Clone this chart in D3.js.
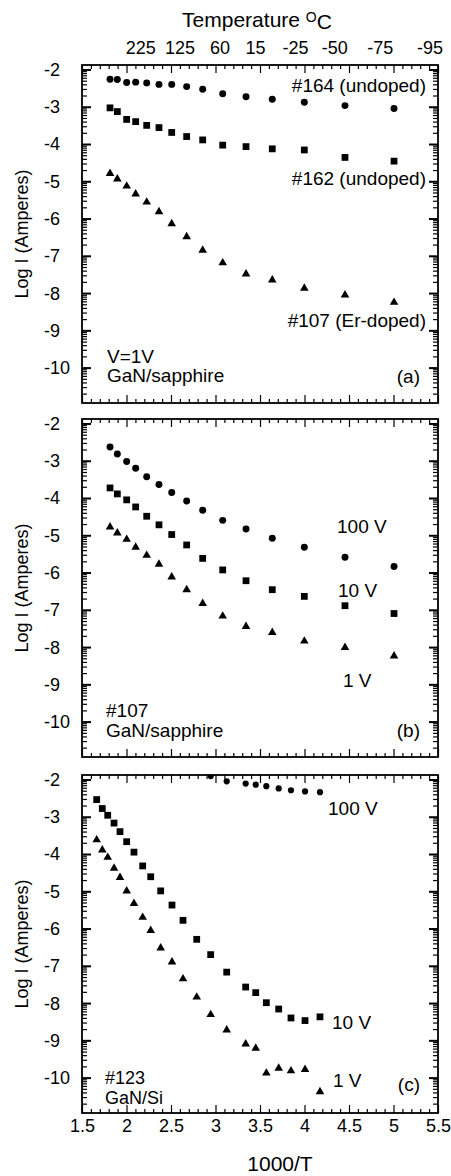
<!DOCTYPE html>
<html>
<head>
<meta charset="utf-8">
<script src="https://cdn.jsdelivr.net/npm/d3@7"></script>
<style>
  body { margin: 0; background: #fff; }
  svg { display: block; font-family: "Liberation Sans", Arial, Helvetica, sans-serif; }
</style>
</head>
<body>
<svg id="chart" width="451" height="1176"></svg>
<script>
// ---- data ----
const xDomain = [1.5, 5.5];
const yDomain = [-10.95, -1.88];
const xMajorTicks = [1.5, 2, 2.5, 3, 3.5, 4, 4.5, 5, 5.5];
const yMajorTicks = [-2, -3, -4, -5, -6, -7, -8, -9, -10];
const tempLabels = ["225", "125", "60", "15", "-25", "-50", "-75", "-95"];
const tempPos = [2.16, 2.6, 3.05, 3.45, 3.9, 4.34, 4.85, 5.41];

// panels (a) and (b) share the same temperatures
const xAB = [1.815, 1.897, 2.002, 2.103, 2.227, 2.365, 2.508, 2.676, 2.856, 3.081, 3.343, 3.638, 3.998, 4.455, 5.006];
const a164 = [-2.26, -2.27, -2.35, -2.34, -2.36, -2.40, -2.40, -2.46, -2.53, -2.65, -2.73, -2.80, -2.88, -2.97, -3.05];
const a162 = [-3.03, -3.13, -3.34, -3.40, -3.50, -3.56, -3.69, -3.80, -3.89, -4.03, -4.07, -4.13, -4.16, -4.36, -4.46];
const a107 = [-4.79, -4.94, -5.13, -5.34, -5.56, -5.82, -6.14, -6.49, -6.85, -7.19, -7.49, -7.65, -7.87, -8.05, -8.25];

const b100 = [-2.63, -2.82, -3.02, -3.20, -3.43, -3.64, -3.85, -4.08, -4.33, -4.60, -4.83, -5.08, -5.32, -5.59, -5.84];
const b10 = [-3.73, -3.89, -4.05, -4.24, -4.49, -4.72, -4.98, -5.26, -5.62, -5.93, -6.22, -6.46, -6.64, -6.89, -7.10];
const b1 = [-4.78, -4.94, -5.11, -5.32, -5.54, -5.78, -6.12, -6.46, -6.83, -7.17, -7.45, -7.61, -7.84, -8.01, -8.24];

const xC = [1.665, 1.728, 1.789, 1.860, 1.927, 2.002, 2.084, 2.182, 2.272, 2.384, 2.511, 2.635, 2.789, 2.946, 3.126, 3.339, 3.452, 3.571, 3.710, 3.848, 4.006, 4.174];
const c100 = [-1.91, -2.05, -2.11, -2.14, -2.18, -2.24, -2.29, -2.32, -2.34]; // last 9 temperatures
const c10 = [-2.54, -2.78, -2.96, -3.17, -3.40, -3.67, -3.95, -4.32, -4.61, -4.99, -5.37, -5.78, -6.29, -6.70, -7.17, -7.57, -7.72, -7.99, -8.16, -8.40, -8.47, -8.37];
const c1 = [-3.62, -3.89, -4.09, -4.38, -4.63, -4.99, -5.33, -5.70, -6.05, -6.52, -6.90, -7.35, -7.84, -8.31, -8.72, -9.10, -9.21, -9.88, -9.75, -9.82, -9.78, -10.38];

// ---- layout ----
const left = 82, right = 438, panelH = 338;
const panelTops = [65, 419, 775];

const svg = d3.select("#chart");
const x = d3.scaleLinear().domain(xDomain).range([left, right]);

const zip = (xs, ys) => ys.map((v, i) => ({ x: xs[i], y: v }));

const panels = [
    {
        id: "a",
        series: [
            { shape: "circle", pts: zip(xAB, a164) },
            { shape: "square", pts: zip(xAB, a162) },
            { shape: "triangle", pts: zip(xAB, a107) }
        ],
        labels: [
            { t: "#164 (undoped)", x: 426, y: 27, a: "end" },
            { t: "#162 (undoped)", x: 426, y: 120, a: "end" },
            { t: "#107 (Er-doped)", x: 426, y: 262, a: "end" },
            { t: "V=1V", x: 107, y: 298, a: "start" },
            { t: "GaN/sapphire", x: 107, y: 317, a: "start" },
            { t: "(a)", x: 420, y: 318, a: "end" }
        ]
    },
    {
        id: "b",
        series: [
            { shape: "circle", pts: zip(xAB, b100) },
            { shape: "square", pts: zip(xAB, b10) },
            { shape: "triangle", pts: zip(xAB, b1) }
        ],
        labels: [
            { t: "100 V", x: 337, y: 114, a: "start" },
            { t: "10 V", x: 338, y: 178, a: "start" },
            { t: "1 V", x: 343, y: 268, a: "start" },
            { t: "#107", x: 106, y: 298, a: "start" },
            { t: "GaN/sapphire", x: 106, y: 318, a: "start" },
            { t: "(b)", x: 420, y: 318, a: "end" }
        ]
    },
    {
        id: "c",
        series: [
            { shape: "circle", pts: zip(xC.slice(xC.length - c100.length), c100), small: true },
            { shape: "square", pts: zip(xC, c10) },
            { shape: "triangle", pts: zip(xC, c1) }
        ],
        labels: [
            { t: "100 V", x: 328, y: 40, a: "start" },
            { t: "10 V", x: 332, y: 254, a: "start" },
            { t: "1 V", x: 333, y: 312, a: "start" },
            { t: "#123", x: 105, y: 309, a: "start" },
            { t: "GaN/Si", x: 105, y: 329, a: "start" },
            { t: "(c)", x: 420, y: 316, a: "end" }
        ]
    }
];

const xMinorTicks = d3.range(15, 56).map(d => d / 10).filter(d => xMajorTicks.indexOf(d) < 0);

function styleAxis(sel) {
    sel.select(".domain").remove();
    sel.selectAll(".tick line").attr("stroke", "#000").attr("stroke-width", 1.2);
}

panels.forEach((p, pi) => {
    const top = panelTops[pi];
    const y = d3.scaleLinear().domain(yDomain).range([top + panelH, top]);
    const g = svg.append("g").attr("class", "panel-" + p.id);

    // log-decade minor ticks on the y axis
    const yMinor = [];
    for (let n = -11; n < -1; n++) {
        for (let k = 2; k <= 9; k++) {
            const v = n + Math.log10(k);
            if (v > yDomain[0] && v < yDomain[1]) yMinor.push(v);
        }
    }

    // bottom / top ticks (inward)
    g.append("g").attr("transform", `translate(0,${top + panelH})`)
        .call(d3.axisBottom(x).tickValues(xMinorTicks).tickSize(-4).tickFormat(""))
        .call(styleAxis);
    g.append("g").attr("transform", `translate(0,${top + panelH})`)
        .call(d3.axisBottom(x).tickValues(xMajorTicks).tickSize(-8).tickPadding(6)
            .tickFormat(pi === 2 ? d3.format("") : ""))
        .call(styleAxis)
        .selectAll("text").style("font-size", "18px").attr("fill", "#000");
    g.append("g").attr("transform", `translate(0,${top})`)
        .call(d3.axisTop(x).tickValues(xMinorTicks).tickSize(-4).tickFormat(""))
        .call(styleAxis);
    g.append("g").attr("transform", `translate(0,${top})`)
        .call(d3.axisTop(x).tickValues(xMajorTicks).tickSize(-8).tickFormat(""))
        .call(styleAxis);

    // left / right ticks (inward)
    [[d3.axisLeft, left], [d3.axisRight, right]].forEach(([ax, pos]) => {
        g.append("g").attr("transform", `translate(${pos},0)`)
            .call(ax(y).tickValues(yMinor).tickSize(-5).tickFormat(""))
            .call(styleAxis);
        g.append("g").attr("transform", `translate(${pos},0)`)
            .call(ax(y).tickValues(yMajorTicks).tickSize(-9).tickFormat(""))
            .call(styleAxis)
            .selectAll(".tick line").attr("stroke-width", 2);
    });

    // y tick labels
    g.selectAll(".ylab")
        .data(yMajorTicks)
        .enter()
        .append("text")
        .attr("x", 44)
        .attr("y", d => y(d))
        .attr("dy", "0.36em")
        .style("font-size", "18px")
        .text(d => d);

    // y axis title
    g.append("text")
        .attr("transform", `translate(28,${top + panelH / 2}) rotate(-90)`)
        .attr("text-anchor", "middle")
        .style("font-size", "18px")
        .text("Log I (Amperes)");

    // clip
    const clipId = "clip-" + p.id;
    g.append("clipPath").attr("id", clipId)
        .append("rect").attr("x", left).attr("y", top).attr("width", right - left).attr("height", panelH);

    const marks = g.append("g").attr("clip-path", `url(#${clipId})`);
    p.series.forEach(s => {
        let sym;
        if (s.shape === "circle") sym = d3.symbol().type(d3.symbolCircle).size(s.small ? 30 : 38);
        else if (s.shape === "square") sym = d3.symbol().type(d3.symbolSquare).size(46);
        else sym = d3.symbol().type(d3.symbolTriangle).size(32);
        marks.selectAll(null)
            .data(s.pts)
            .enter()
            .append("path")
            .attr("d", sym)
            .attr("transform", d => `translate(${x(d.x)},${y(d.y)})`)
            .attr("fill", "#000");
    });

    // frame
    g.append("rect")
        .attr("x", left).attr("y", top)
        .attr("width", right - left).attr("height", panelH)
        .attr("fill", "none").attr("stroke", "#000").attr("stroke-width", 1.8);

    // annotations
    g.selectAll(".note")
        .data(p.labels)
        .enter()
        .append("text")
        .attr("x", d => d.x)
        .attr("y", d => top + d.y)
        .attr("text-anchor", d => d.a)
        .style("font-size", d => d.t === "#123" || d.t === "GaN/Si" ? "18px" : "19px")
        .text(d => d.t);
});

// top temperature axis labels
svg.selectAll(".templab")
    .data(tempLabels)
    .enter()
    .append("text")
    .attr("x", (d, i) => x(tempPos[i]))
    .attr("y", 54)
    .attr("text-anchor", "middle")
    .style("font-size", "18px")
    .text(d => d);

const title = svg.append("text")
    .attr("x", 257)
    .attr("y", 27)
    .attr("text-anchor", "middle")
    .style("font-size", "21px");
title.append("tspan").text("Temperature ");
title.append("tspan").attr("dy", "-0.35em").style("font-size", "14px").text("O");
title.append("tspan").attr("dy", "0.35em").text("C");

svg.append("text")
    .attr("x", 280)
    .attr("y", 1171)
    .attr("text-anchor", "middle")
    .style("font-size", "21px")
    .text("1000/T");
</script>
</body>
</html>
